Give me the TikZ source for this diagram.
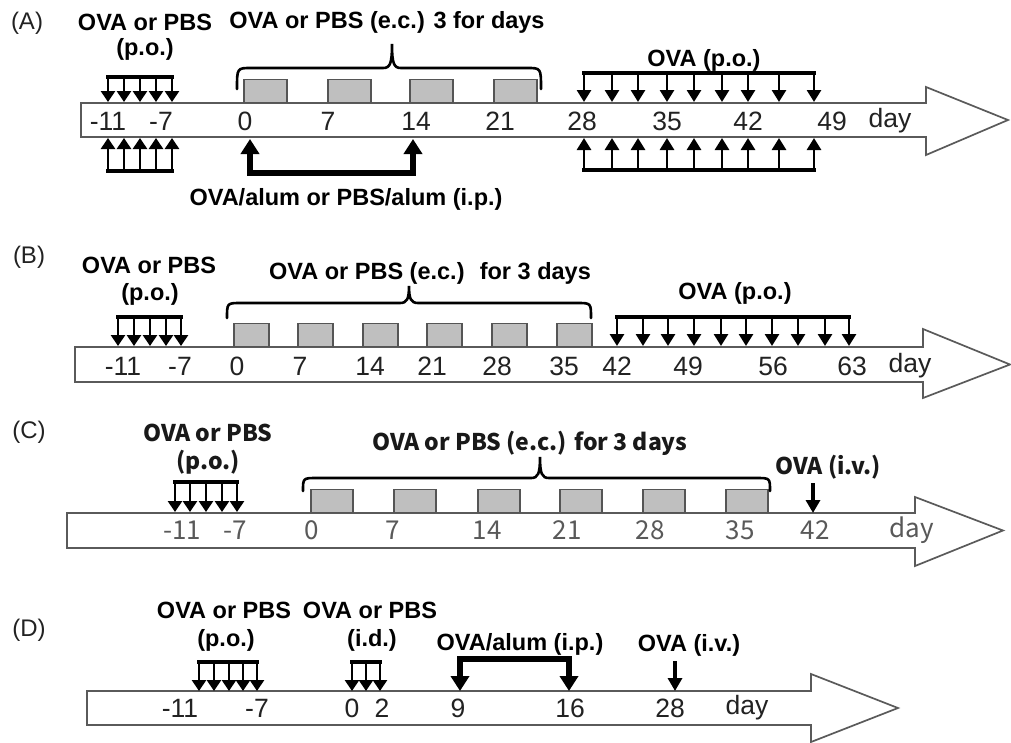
\documentclass[tikz,border=0pt]{standalone}
\usepackage{fontspec}
\setmainfont{Liberation Sans}
\newfontfamily\cjk{Noto Sans CJK JP}
\usetikzlibrary{arrows.meta}
\definecolor{axisgray}{HTML}{5A5A5A}
\definecolor{boxfill}{HTML}{BFBFBF}
\definecolor{boxline}{HTML}{555555}
\definecolor{numgray}{HTML}{222222}
\newcommand{\timeaxis}[7]{%
  \draw[axis] (#1,#4) -- (#2,#4) -- (#2,#6) -- (#3,{(#4+#5)/2}) -- (#2,#7) -- (#2,#5) -- (#1,#5) -- cycle;}
\newcommand{\mybrace}[6]{%
  \draw[brc] (#1,#4) .. controls (#1,#5) .. ({#1+14},#5) -- ({#3-9},#5)
    .. controls ({#3-2},#5) and (#3,{#5-4}) .. (#3,#6)
    .. controls (#3,{#5-4}) and ({#3+2},#5) .. ({#3+9},#5) -- ({#2-14},#5)
    .. controls (#2,#5) .. (#2,#4);}
\tikzset{
  axis/.style={draw=axisgray, line width=1.7pt, fill=white, line join=miter},
  dbox/.style={draw=boxline, fill=boxfill, line width=1.5pt, inner sep=0pt, anchor=south west, minimum height=23pt},
  hdr/.style={font=\bfseries\fontsize{23.5}{25}\selectfont, text=black, inner sep=0pt},
  num/.style={font=\fontsize{26.5}{28}\selectfont, text=numgray, inner sep=0pt},
  plabel/.style={font=\fontsize{24}{26}\selectfont, text=numgray, inner sep=0pt},
  chdr/.style={font=\cjk\bfseries\fontsize{23}{25}\selectfont, text=black!90, inner sep=0pt},
  cnum/.style={font=\cjk\fontsize{26}{28}\selectfont, text=numgray!75, inner sep=0pt},
  combbar/.style={line width=3.4pt, line cap=rect},
  combarr/.style={line width=2.6pt, -{Triangle[width=14pt,length=11pt]}},
  bigcomb/.style={line width=2.8pt, -{Triangle[width=14pt,length=12pt]}},
  ivarr/.style={line width=3.2pt, -{Triangle[width=14pt,length=13pt]}},
  brc/.style={line width=2.6pt, line cap=round},
  ipbr/.style={line width=5.5pt, line join=miter, {Triangle[width=18pt,length=15pt]}-{Triangle[width=18pt,length=15pt]}}
}
\begin{document}
\begin{tikzpicture}[x=1pt,y=-1pt]
\useasboundingbox (0,0) rectangle (1011,742);

% ================= Panel A =================
\timeaxis{81}{926}{1008}{103}{137}{87}{155}
\foreach \x [count=\i] in {243,327,409,493}
  \node[dbox, minimum width=43pt] (Abox\i) at (\x,103) {};
\foreach \x/\t [count=\i] in {108/-11,161/-7,245/0,328/7,416/14,500/21,582/28,667/35,748/42,832/49,890/day}
  \node[num] (Al\i) at (\x,121) {\t};
\node[plabel] (Apanel) at (27,23) {(A)};
\node[hdr] (Apo1) at (145,22) {OVA or PBS};
\node[hdr] (Apo2) at (145,49) {(p.o.)};
\node[hdr] (Aec) at (387,22) {OVA or PBS (e.c.) 3 for days};
\node[hdr] (Apo3) at (704,60) {OVA (p.o.)};
\node[hdr] (Aip) at (346,199) {OVA/alum or PBS/alum (i.p.)};
% p.o. combs left
\draw[combbar] (108,77) -- (172,77);
\foreach \x in {108,124,140,156,172} \draw[combarr] (\x,77) -- (\x,102);
\draw[combbar] (108,171) -- (172,171);
\foreach \x in {108,124,140,156,172} \draw[combarr] (\x,171) -- (\x,138);
% p.o. combs right
\draw[combbar] (584,73) -- (814,73);
\foreach \x in {584,612,638,667,694,722,748,779,814} \draw[bigcomb] (\x,73) -- (\x,102);
\draw[combbar] (584,170) -- (814,170);
\foreach \x in {584,612,638,667,694,722,748,779,814} \draw[bigcomb] (\x,170) -- (\x,138);
% i.p. bracket
\draw[ipbr] (250,139) -- (250,173) -- (413,173) -- (413,139);
% brace
\mybrace{237}{541}{392}{89}{68}{44}

% ================= Panel B =================
\timeaxis{75}{923}{1010}{347}{382}{329}{398}
\foreach \x [count=\i] in {233,297,362,426,491,556}
  \node[dbox, minimum width=35pt] (Bbox\i) at (\x,347) {};
\foreach \x/\t [count=\i] in {123/-11,180/-7,237/0,300/7,370/14,432/21,497/28,564/35,617/42,688/49,773/56,852/63,910/day}
  \node[num] (Bl\i) at (\x,366) {\t};
\node[plabel] (Bpanel) at (29,257) {(B)};
\node[hdr] (Bpo1) at (149,265) {OVA or PBS};
\node[hdr] (Bpo2) at (150,294) {(p.o.)};
\node[hdr] (Bec) at (430,273) {OVA or PBS (e.c.)~ for 3 days};
\node[hdr] (Bpo3) at (735,293) {OVA (p.o.)};
\draw[combbar] (118,317) -- (181,317);
\foreach \x in {118,134,150,166,181} \draw[combarr] (\x,317) -- (\x,346);
\draw[combbar] (617,317) -- (849,317);
\foreach \x in {617,643,668,694,721,746,772,798,825,849} \draw[bigcomb] (\x,317) -- (\x,346);
\mybrace{227}{591}{409}{318}{303}{286}

% ================= Panel C =================
\timeaxis{67}{915}{1003}{513}{548}{497}{566}
\foreach \x [count=\i] in {310,393,477,559,642,725}
  \node[dbox, minimum width=42pt] (Cbox\i) at (\x,513) {};
\foreach \x/\t [count=\i] in {182/-11,235/-7,312/0,393/7,487/14,567/21,650/28,740/35,815/42,912/day}
  \node[cnum] (Cl\i) at (\x,530) {\t};
\node[plabel] (Cpanel) at (29,432) {(C)};
\node[chdr] (Cpo1) at (208,433) {OVA or PBS};
\node[chdr] (Cpo2) at (208,462) {(p.o.)};
\node[chdr] (Cec) at (530,443) {OVA or PBS (e.c.) for 3 days};
\node[chdr] (Civ) at (828,467) {OVA (i.v.)};
\draw[combbar] (175,482) -- (237,482);
\foreach \x in {175,190,206,222,237} \draw[combarr] (\x,482) -- (\x,512);
\draw[ivarr] (813,483) -- (813,513);
\mybrace{303}{770}{540}{491}{478}{457}

% ================= Panel D =================
\timeaxis{87}{811}{898}{691}{725}{674}{742}
\foreach \x/\t [count=\i] in {180/-11,257/-7,352/0,382/2,458/9,570/16,670/28,747/day}
  \node[num] (Dl\i) at (\x,708) {\t};
\node[plabel] (Dpanel) at (29,630) {(D)};
\node[hdr] (Dpo1) at (224,610) {OVA or PBS};
\node[hdr] (Dpo2) at (226,640) {(p.o.)};
\node[hdr] (Did1) at (370,610) {OVA or PBS};
\node[hdr] (Did2) at (372,640) {(i.d.)};
\node[hdr] (Dip) at (520,644) {OVA/alum (i.p.)};
\node[hdr] (Div) at (689,645) {OVA (i.v.)};
\draw[combbar] (199,662) -- (257,662);
\foreach \x in {199,214,229,243,257} \draw[combarr] (\x,662) -- (\x,691);
\draw[combbar] (352,662) -- (380,662);
\foreach \x in {352,366,380} \draw[combarr] (\x,662) -- (\x,691);
\draw[ipbr] (460,691) -- (460,659) -- (569,659) -- (569,691);
\draw[ivarr] (675,661) -- (675,691);
\end{tikzpicture}
\end{document}
